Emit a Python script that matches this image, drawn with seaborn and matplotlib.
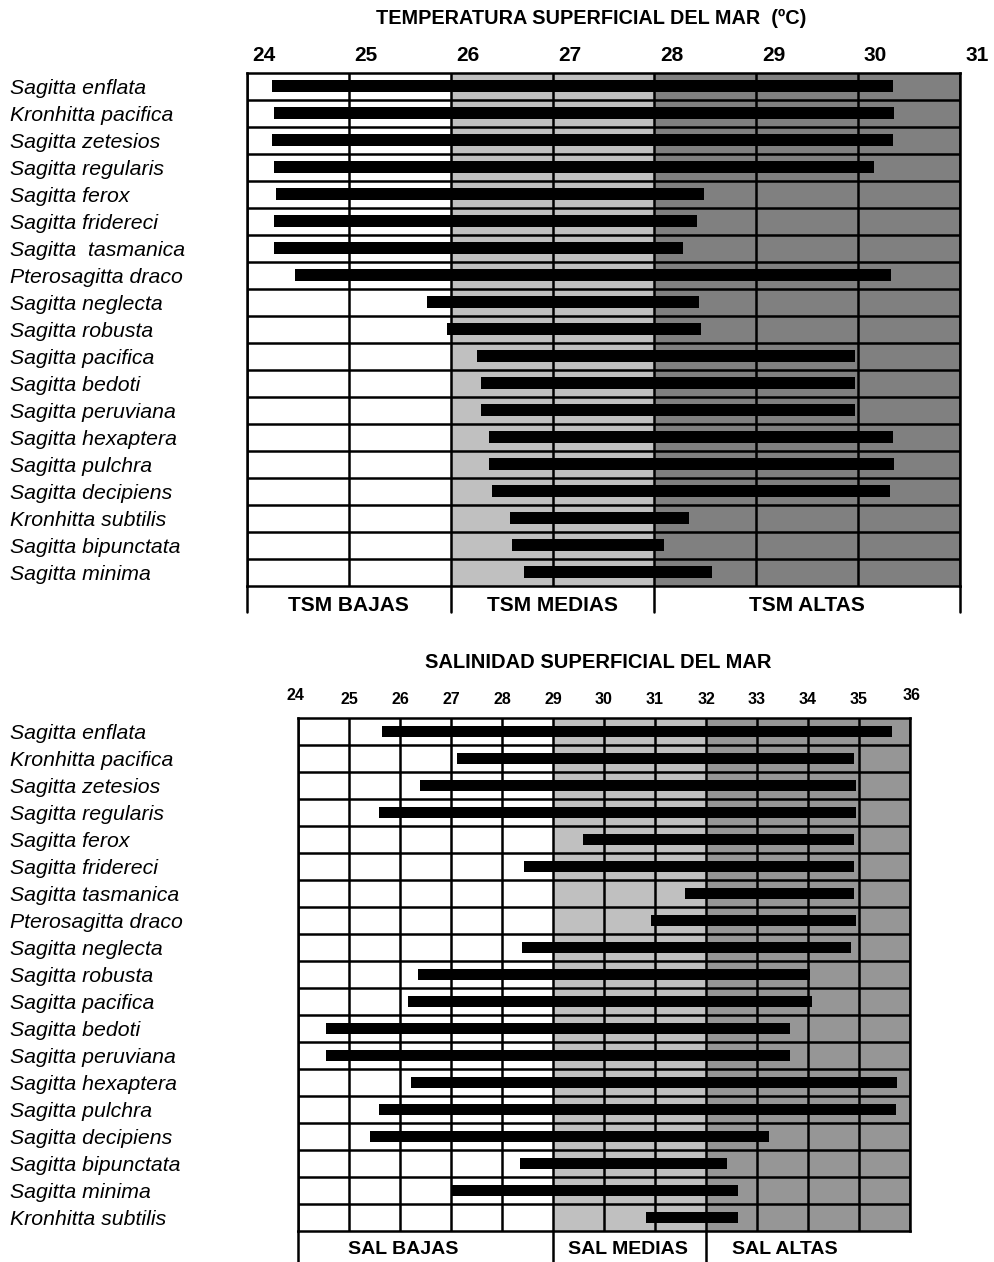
import numpy as np
import pandas as pd
import matplotlib.pyplot as plt
import seaborn as sns

# rangos de temperatura superficial del mar (ºC) por especie
tsm_species = ["Sagitta enflata", "Kronhitta pacifica", "Sagitta zetesios", "Sagitta regularis",
               "Sagitta ferox", "Sagitta fridereci", "Sagitta  tasmanica", "Pterosagitta draco",
               "Sagitta neglecta", "Sagitta robusta", "Sagitta pacifica", "Sagitta bedoti",
               "Sagitta peruviana", "Sagitta hexaptera", "Sagitta pulchra", "Sagitta decipiens",
               "Kronhitta subtilis", "Sagitta bipunctata", "Sagitta minima"]
tsm_min = [24.25, 24.27, 24.25, 24.27, 24.29, 24.27, 24.27, 24.47, 25.77, 25.96,
           26.26, 26.30, 26.30, 26.38, 26.38, 26.41, 26.58, 26.60, 26.72]
tsm_max = [30.34, 30.35, 30.34, 30.16, 28.49, 28.42, 28.28, 30.32, 28.44, 28.46,
           29.97, 29.97, 29.97, 30.34, 30.35, 30.31, 28.34, 28.09, 28.57]
tsm_ticks = [24, 25, 26, 27, 28, 29, 30, 31]
tsm_zone_names = ["TSM BAJAS", "TSM MEDIAS", "TSM ALTAS"]
tsm_zone_limits = [24, 26, 28, 31]

# rangos de salinidad superficial del mar por especie
sal_species = ["Sagitta enflata", "Kronhitta pacifica", "Sagitta zetesios", "Sagitta regularis",
               "Sagitta ferox", "Sagitta fridereci", "Sagitta tasmanica", "Pterosagitta draco",
               "Sagitta neglecta", "Sagitta robusta", "Sagitta pacifica", "Sagitta bedoti",
               "Sagitta peruviana", "Sagitta hexaptera", "Sagitta pulchra", "Sagitta decipiens",
               "Sagitta bipunctata", "Sagitta minima", "Kronhitta subtilis"]
sal_min = [25.65, 27.12, 26.39, 25.59, 29.59, 28.43, 31.59, 30.92, 28.39, 26.36,
           26.16, 24.55, 24.55, 26.22, 25.59, 25.42, 28.35, 27.01, 30.83]
sal_max = [35.64, 34.91, 34.95, 34.95, 34.91, 34.91, 34.91, 34.95, 34.85, 34.04,
           34.08, 33.65, 33.65, 35.75, 35.72, 33.24, 32.41, 32.62, 32.62]
sal_ticks = [24, 25, 26, 27, 28, 29, 30, 31, 32, 33, 34, 35, 36]
sal_zone_names = ["SAL BAJAS", "SAL MEDIAS", "SAL ALTAS"]
sal_zone_limits = [24, 29, 32, 36]

sns.set_style("white")
plt.rcParams['font.family'] = ['Liberation Sans', 'DejaVu Sans']
plt.rcParams['text.color'] = 'black'
plt.rcParams['ytick.color'] = 'black'
plt.rcParams['ytick.labelcolor'] = 'black'

LW = 1.8

fig = plt.figure(figsize=(9.95, 12.62), dpi=100)
ax1 = fig.add_axes([0.2482, 0.5359, 0.7166, 0.4065])
ax2 = fig.add_axes([0.2995, 0.0246, 0.6151, 0.4065])


def range_chart(ax, species, lo, hi, limits, colors, label_pad):
    df = pd.DataFrame({'especie': species, 'min': lo, 'max': hi})
    df['rango'] = df['max'] - df['min']
    sns.barplot(data=df, x='rango', y='especie', order=species, orient='h',
                color='black', saturation=1, width=0.43, linewidth=0, ax=ax, zorder=4)
    # each bar starts at the lower limit of its range
    for bar, start in zip(list(ax.patches), df['min']):
        bar.set_x(start)

    # background zones
    for a, b, c in zip(limits[:-1], limits[1:], colors):
        ax.axvspan(a, b, color=c, lw=0, zorder=0)

    # grid
    for v in range(limits[0], limits[-1] + 1):
        ax.axvline(v, color='black', lw=LW, zorder=2)
    for i in range(len(species) - 1):
        ax.axhline(i + 0.5, color='black', lw=LW, zorder=2)
    for s in ax.spines.values():
        s.set_visible(True)
        s.set_color('black')
        s.set_linewidth(LW)

    ax.set_xlim(limits[0], limits[-1])
    ax.set_ylim(len(species) - 0.5, -0.5)
    ax.set_xlabel('')
    ax.set_ylabel('')
    ax.set_xticks([])
    ax.set_yticks(range(len(species)))
    ax.set_yticklabels(species, fontstyle='italic', fontsize=15.3, ha='left', color='black')
    ax.tick_params(axis='y', length=0, pad=label_pad)


range_chart(ax1, tsm_species, tsm_min, tsm_max, tsm_zone_limits,
            ['white', '#c0c0c0', '#808080'], 170.6)
range_chart(ax2, sal_species, sal_min, sal_max, sal_zone_limits,
            ['white', '#c0c0c0', '#969696'], 207.4)

# top chart: numbers, brackets, labels
tr1 = ax1.get_xaxis_transform()
for t in tsm_ticks:
    ax1.text(t + 0.17, 1.033, str(t), transform=tr1, ha='center', va='center',
             fontsize=15, fontweight='bold')
for v in tsm_zone_limits:
    ax1.plot([v, v], [0, -0.052], transform=tr1, color='black', lw=LW, clip_on=False)
for a, b, name in zip(tsm_zone_limits[:-1], tsm_zone_limits[1:], tsm_zone_names):
    ax1.text((a + b) / 2, -0.038, name, transform=tr1, ha='center', va='center',
             fontsize=15, fontweight='bold')

# bottom chart
tr2 = ax2.get_xaxis_transform()
for t in sal_ticks:
    dx, y = 0, 1.035
    if t == sal_ticks[0]:
        dx, y = -0.06, 1.043
    elif t == sal_ticks[-1]:
        dx, y = 0.04, 1.043
    ax2.text(t + dx, y, str(t), transform=tr2, ha='center', va='center',
             fontsize=11.5, fontweight='bold')
for v in sal_zone_limits[:-1]:
    ax2.plot([v, v], [0, -0.062], transform=tr2, color='black', lw=LW, clip_on=False)
for x, name in zip([26.06, 30.47, 33.55], sal_zone_names):
    ax2.text(x, -0.037, name, transform=tr2, ha='center', va='center',
             fontsize=14, fontweight='bold')

fig.text(0.594, 0.9857, "TEMPERATURA SUPERFICIAL DEL MAR  (ºC)", ha='center', va='center',
         fontsize=14.3, fontweight='bold')
fig.text(0.601, 0.4747, "SALINIDAD SUPERFICIAL DEL MAR", ha='center', va='center',
         fontsize=14.5, fontweight='bold')

plt.savefig('out.png', dpi=100)
